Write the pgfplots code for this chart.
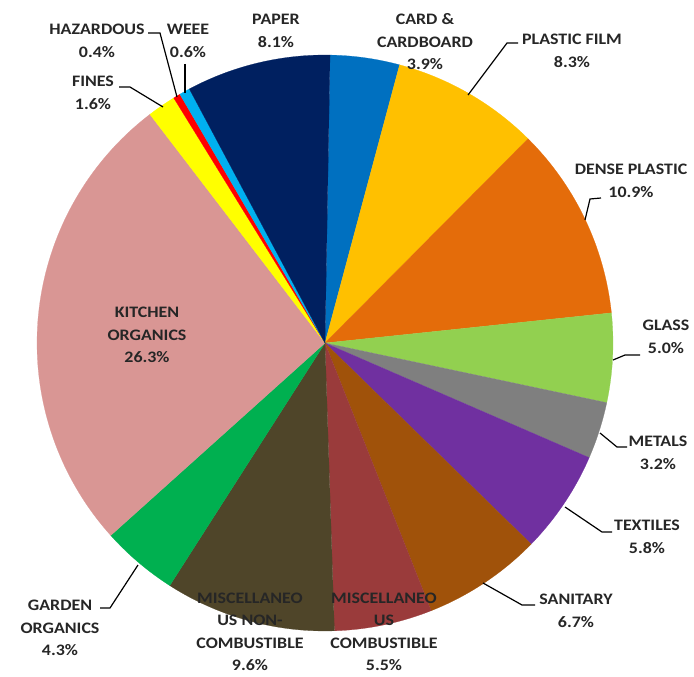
\documentclass[border=0pt]{standalone}
\usepackage{pgfplots}
\pgfplotsset{compat=1.18}
\usepackage{fontspec}
\setmainfont{Carlito}
\newfontfamily\lblfont{Carlito}[FakeStretch=1.12]
\definecolor{cCard}{HTML}{0070C0}
\definecolor{cFilm}{HTML}{FFC000}
\definecolor{cDense}{HTML}{E46C0A}
\definecolor{cGlass}{HTML}{92D050}
\definecolor{cMetals}{HTML}{7F7F7F}
\definecolor{cTextiles}{HTML}{7030A0}
\definecolor{cSanitary}{HTML}{A0520A}
\definecolor{cMiscC}{HTML}{9A3B3B}
\definecolor{cMiscNC}{HTML}{4F4529}
\definecolor{cGarden}{HTML}{00B050}
\definecolor{cKitchen}{HTML}{D99694}
\definecolor{cFines}{HTML}{FFFF00}
\definecolor{cHaz}{HTML}{FF0000}
\definecolor{cWEEE}{HTML}{00B0F0}
\definecolor{cPaper}{HTML}{002060}
\definecolor{txt}{HTML}{262626}
\tikzset{lbl/.style={font=\lblfont\fontsize{16}{22.5}\selectfont\bfseries, text=txt, align=center, inner sep=0pt}}
% slice: color, start angle, end angle  (angles = 89 - 360*cum/100.2)
\newcommand{\slice}[3]{%
  \addplot[fill=#1, draw=#1, line width=0.2pt, domain=#3:#2, samples=90]
    ({325+288*cos(x)},{343-288*sin(x)}) -- (axis cs:325,343) -- cycle;}
\begin{document}
\begin{tikzpicture}
\begin{axis}[
  width=694pt, height=677pt, scale only axis,
  xmin=0, xmax=694, ymin=0, ymax=677, y dir=reverse,
  axis line style={draw=none}, ticks=none, clip=false,
]
% values: Card 3.9, Plastic film 8.3, Dense plastic 10.9, Glass 5.0, Metals 3.2,
% Textiles 5.8, Sanitary 6.7, Misc comb 5.5, Misc non-comb 9.6, Garden 4.3,
% Kitchen 26.3, Fines 1.6, Hazardous 0.4, WEEE 0.6, Paper 8.1
\slice{cCard}{89}{74.988}
\slice{cFilm}{74.988}{45.168}
\slice{cDense}{45.168}{6.006}
\slice{cGlass}{6.006}{-11.958}
\slice{cMetals}{-11.958}{-23.455}
\slice{cTextiles}{-23.455}{-44.293}
\slice{cSanitary}{-44.293}{-68.365}
\slice{cMiscC}{-68.365}{-88.126}
\slice{cMiscNC}{-88.126}{-122.617}
\slice{cGarden}{-122.617}{-138.066}
\slice{cKitchen}{-138.066}{-232.557}
\slice{cFines}{-232.557}{-238.305}
\slice{cHaz}{-238.305}{-239.743}
\slice{cWEEE}{-239.743}{-241.898}
\slice{cPaper}{-241.898}{-271}
% leader lines
\addplot[black, line width=1.2pt] coordinates {(148,33) (160,33) (177,97)};
\addplot[black, line width=1.2pt] coordinates {(185,64) (185,93)};
\addplot[black, line width=1.2pt] coordinates {(119,87) (130,87) (163,107)};
\addplot[black, line width=1.2pt] coordinates {(518,43) (507,43) (468,95)};
\addplot[black, line width=1.2pt] coordinates {(585,220) (590,199) (601,198)};
\addplot[black, line width=1.2pt] coordinates {(613,360) (625,355) (640,355)};
\addplot[black, line width=1.2pt] coordinates {(600,433) (617,447) (627,447)};
\addplot[black, line width=1.2pt] coordinates {(565,507) (602,532) (612,532)};
\addplot[black, line width=1.2pt] coordinates {(483,583) (522,605) (535,605)};
\addplot[black, line width=1.2pt] coordinates {(138,565) (110,608) (100,608)};
% labels
\node[lbl] at (axis cs:97,41) {HAZARDOUS\\0.4\%};
\node[lbl] at (axis cs:188,41) {WEEE\\0.6\%};
\node[lbl] at (axis cs:93,93) {FINES\\1.6\%};
\node[lbl] at (axis cs:276,31) {PAPER\\8.1\%};
\node[lbl] at (axis cs:425,42) {CARD \&\\CARDBOARD\\3.9\%};
\node[lbl] at (axis cs:572,51) {PLASTIC FILM\\8.3\%};
\node[lbl] at (axis cs:631,181) {DENSE PLASTIC\\10.9\%};
\node[lbl] at (axis cs:666,337) {GLASS\\5.0\%};
\node[lbl] at (axis cs:658,453) {METALS\\3.2\%};
\node[lbl] at (axis cs:647,537) {TEXTILES\\5.8\%};
\node[lbl] at (axis cs:576,611) {SANITARY\\6.7\%};
\node[lbl] at (axis cs:384,632) {MISCELLANEO\\US\\COMBUSTIBLE\\5.5\%};
\node[lbl] at (axis cs:250,632) {MISCELLANEO\\US NON-\\COMBUSTIBLE\\9.6\%};
\node[lbl] at (axis cs:60,628) {GARDEN\\ORGANICS\\4.3\%};
\node[lbl] at (axis cs:147,335) {KITCHEN\\ORGANICS\\26.3\%};
\end{axis}
\end{tikzpicture}
\end{document}
